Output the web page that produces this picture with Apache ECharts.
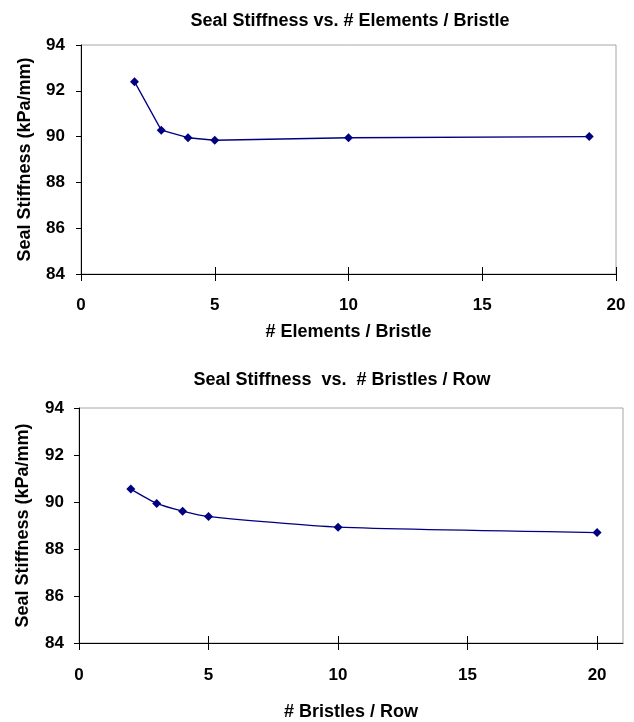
<!DOCTYPE html>
<html>
<head>
<meta charset="utf-8">
<script src="https://cdn.jsdelivr.net/npm/echarts@6/dist/echarts.min.js"></script>
<style>
  html, body { margin: 0; padding: 0; background: #fff; }
  #chart { width: 634px; height: 722px; }
</style>
</head>
<body>
<div id="chart"></div>
<script>
// top chart: stiffness vs elements per bristle
const elementsX = [2, 3, 4, 5, 10, 19];
const elementsStiffness = [92.4, 90.28, 89.95, 89.84, 89.95, 90.0];
// bottom chart: stiffness vs bristles per row
const bristlesX = [2, 3, 4, 5, 10, 20];
const bristlesStiffness = [90.55, 89.94, 89.61, 89.38, 88.93, 88.7];
const xTicks = [0, 5, 10, 15, 20];
const yTicks = [84, 86, 88, 90, 92, 94];

const FONT = "'Liberation Sans', Arial, sans-serif";
const LINE = '#000080';

const pairs = (xs, ys) => xs.map((x, i) => [x, ys[i]]);

const textStyle = { fontFamily: FONT, fontWeight: 'bold', color: '#000' };

// main x axis: line, outward ticks, labels, name
function makeX(gridIndex, max, name, nameGap, labelMargin) {
  return {
    type: 'value',
    gridIndex,
    min: 0,
    max,
    interval: 5,
    position: 'bottom',
    name,
    nameLocation: 'middle',
    nameGap,
    nameTextStyle: { ...textStyle, fontSize: 18 },
    axisLine: { show: true, onZero: false, lineStyle: { color: '#000', width: 1 } },
    axisTick: { show: true, length: 7, customValues: xTicks, lineStyle: { color: '#000' } },
    axisLabel: { customValues: xTicks, margin: labelMargin, ...textStyle, fontSize: 17 },
    splitLine: { show: false }
  };
}

// helper axis pulled down onto the bottom edge so the ticks cross the axis line
function makeXCross(gridIndex, max, plotHeight) {
  return {
    type: 'value',
    gridIndex,
    min: 0,
    max,
    interval: 5,
    position: 'top',
    offset: -plotHeight,
    axisLine: { show: false },
    axisTick: { show: true, length: 7, customValues: xTicks, lineStyle: { color: '#000' } },
    axisLabel: { show: false },
    splitLine: { show: false }
  };
}

function makeY(gridIndex, nameGap, labelMargin) {
  return {
    type: 'value',
    gridIndex,
    min: 84,
    max: 94,
    interval: 2,
    name: 'Seal Stiffness (kPa/mm)',
    nameLocation: 'middle',
    nameGap,
    nameTextStyle: { ...textStyle, fontSize: 18 },
    axisLine: { show: true, lineStyle: { color: '#000', width: 1 } },
    axisTick: { show: true, length: 5, lineStyle: { color: '#000' } },
    axisLabel: {
      margin: labelMargin,
      ...textStyle,
      fontSize: 17,
      formatter: (v) => (yTicks.includes(v) ? String(v) : '')
    },
    splitLine: { show: false }
  };
}

function makeSeries(i, data, smooth) {
  return {
    type: 'line',
    xAxisIndex: i * 2,
    yAxisIndex: i,
    data,
    smooth,
    symbol: 'diamond',
    symbolSize: 9,
    lineStyle: { color: LINE, width: 1.3 },
    itemStyle: { color: LINE },
    emphasis: { disabled: true }
  };
}

const option = {
  animation: false,
  backgroundColor: '#fff',
  title: [
    {
      text: 'Seal Stiffness vs. # Elements / Bristle',
      left: 345,
      textAlign: 'center',
      top: 7,
      textStyle: { ...textStyle, fontSize: 18 }
    },
    {
      text: 'Seal Stiffness  vs.  # Bristles / Row',
      left: 337,
      textAlign: 'center',
      top: 366,
      textStyle: { ...textStyle, fontSize: 18 }
    }
  ],
  grid: [
    {
      left: 81, top: 45, width: 535, height: 229,
      show: true, borderColor: '#a6a6a6', borderWidth: 1,
      outerBoundsMode: 'none'
    },
    {
      left: 79, top: 408, width: 544, height: 235,
      show: true, borderColor: '#a6a6a6', borderWidth: 1,
      outerBoundsMode: 'none'
    }
  ],
  xAxis: [
    makeX(0, 20, '# Elements / Bristle', 49, 23),
    makeXCross(0, 20, 229),
    makeX(1, 21, '# Bristles / Row', 60, 24),
    makeXCross(1, 21, 235)
  ],
  yAxis: [
    makeY(0, 47, 16),
    makeY(1, 47, 15)
  ],
  series: [
    makeSeries(0, pairs(elementsX, elementsStiffness), false),
    makeSeries(1, pairs(bristlesX, bristlesStiffness), 0.2)
  ]
};

const myChart = echarts.init(document.getElementById('chart'));
myChart.setOption(option);
</script>
</body>
</html>
